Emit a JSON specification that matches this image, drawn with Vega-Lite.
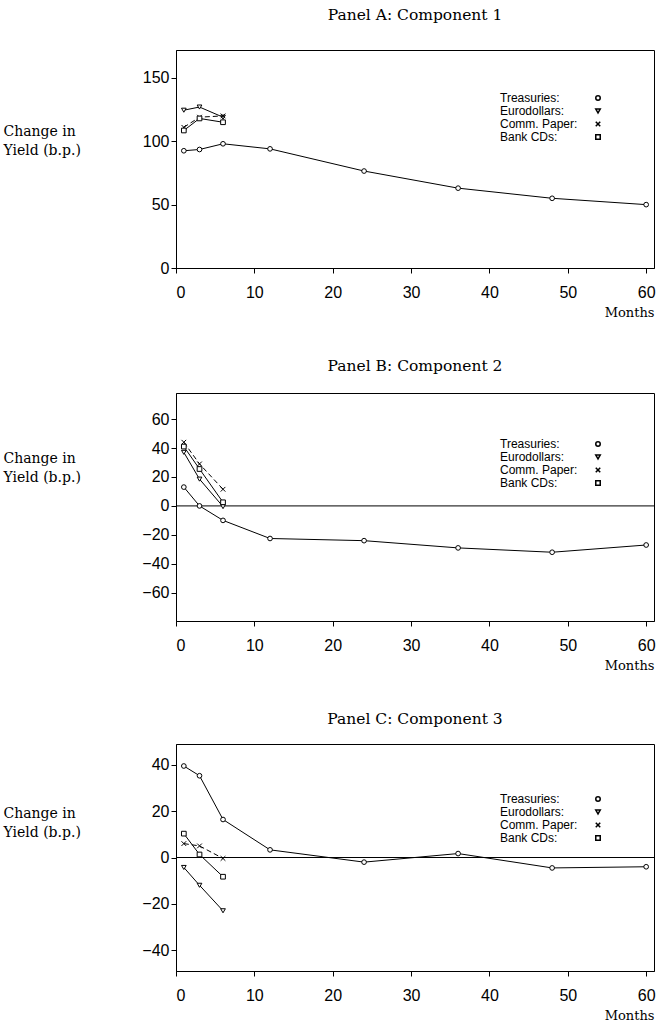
{
  "$schema": "https://vega.github.io/schema/vega-lite/v6.json",
  "padding": {"left": 2, "top": 7, "right": 4, "bottom": 1},
  "background": "white",
  "config": {
    "view": {"stroke": "black", "strokeWidth": 1},
    "font": "Liberation Sans",
    "axis": {
      "grid": false,
      "domainColor": "black",
      "tickColor": "black",
      "labelColor": "black",
      "labelFont": "Liberation Sans",
      "labelFontSize": 16,
      "tickSize": 5,
      "titleFont": "DejaVu Serif",
      "titleFontWeight": "normal",
      "titleFontSize": 14,
      "titleColor": "black"
    },
    "title": {"font": "DejaVu Serif", "fontSize": 15.5, "fontWeight": "normal", "color": "black", "anchor": "middle"},
    "legend": {
      "labelFont": "Liberation Sans",
      "labelFontSize": 12,
      "labelColor": "black"
    }
  },
  "datasets": {
    "curves": [
      {"panel": "A", "series": "Treasuries", "month": 1, "value": 92.5},
      {"panel": "A", "series": "Treasuries", "month": 3, "value": 93.5},
      {"panel": "A", "series": "Treasuries", "month": 6, "value": 98},
      {"panel": "A", "series": "Treasuries", "month": 12, "value": 94},
      {"panel": "A", "series": "Treasuries", "month": 24, "value": 76.5},
      {"panel": "A", "series": "Treasuries", "month": 36, "value": 63},
      {"panel": "A", "series": "Treasuries", "month": 48, "value": 55},
      {"panel": "A", "series": "Treasuries", "month": 60, "value": 50},
      {"panel": "A", "series": "Eurodollars", "month": 1, "value": 124.5},
      {"panel": "A", "series": "Eurodollars", "month": 3, "value": 127},
      {"panel": "A", "series": "Eurodollars", "month": 6, "value": 119},
      {"panel": "A", "series": "Comm. Paper", "month": 1, "value": 111},
      {"panel": "A", "series": "Comm. Paper", "month": 3, "value": 119},
      {"panel": "A", "series": "Comm. Paper", "month": 6, "value": 120},
      {"panel": "A", "series": "Bank CDs", "month": 1, "value": 108.5},
      {"panel": "A", "series": "Bank CDs", "month": 3, "value": 118},
      {"panel": "A", "series": "Bank CDs", "month": 6, "value": 115},
      {"panel": "B", "series": "Treasuries", "month": 1, "value": 13},
      {"panel": "B", "series": "Treasuries", "month": 3, "value": 0},
      {"panel": "B", "series": "Treasuries", "month": 6, "value": -10},
      {"panel": "B", "series": "Treasuries", "month": 12, "value": -22.5},
      {"panel": "B", "series": "Treasuries", "month": 24, "value": -24},
      {"panel": "B", "series": "Treasuries", "month": 36, "value": -29},
      {"panel": "B", "series": "Treasuries", "month": 48, "value": -32},
      {"panel": "B", "series": "Treasuries", "month": 60, "value": -27},
      {"panel": "B", "series": "Eurodollars", "month": 1, "value": 37},
      {"panel": "B", "series": "Eurodollars", "month": 3, "value": 18.5},
      {"panel": "B", "series": "Eurodollars", "month": 6, "value": -0.5},
      {"panel": "B", "series": "Comm. Paper", "month": 1, "value": 44},
      {"panel": "B", "series": "Comm. Paper", "month": 3, "value": 29},
      {"panel": "B", "series": "Comm. Paper", "month": 6, "value": 11.5},
      {"panel": "B", "series": "Bank CDs", "month": 1, "value": 41},
      {"panel": "B", "series": "Bank CDs", "month": 3, "value": 25.5},
      {"panel": "B", "series": "Bank CDs", "month": 6, "value": 2.5},
      {"panel": "C", "series": "Treasuries", "month": 1, "value": 39.5},
      {"panel": "C", "series": "Treasuries", "month": 3, "value": 35.3},
      {"panel": "C", "series": "Treasuries", "month": 6, "value": 16.4},
      {"panel": "C", "series": "Treasuries", "month": 12, "value": 3.3},
      {"panel": "C", "series": "Treasuries", "month": 24, "value": -2},
      {"panel": "C", "series": "Treasuries", "month": 36, "value": 1.7},
      {"panel": "C", "series": "Treasuries", "month": 48, "value": -4.5},
      {"panel": "C", "series": "Treasuries", "month": 60, "value": -4},
      {"panel": "C", "series": "Eurodollars", "month": 1, "value": -4.3},
      {"panel": "C", "series": "Eurodollars", "month": 3, "value": -12},
      {"panel": "C", "series": "Eurodollars", "month": 6, "value": -23},
      {"panel": "C", "series": "Comm. Paper", "month": 1, "value": 6},
      {"panel": "C", "series": "Comm. Paper", "month": 3, "value": 5},
      {"panel": "C", "series": "Comm. Paper", "month": 6, "value": -0.4},
      {"panel": "C", "series": "Bank CDs", "month": 1, "value": 10.3},
      {"panel": "C", "series": "Bank CDs", "month": 3, "value": 1.3},
      {"panel": "C", "series": "Bank CDs", "month": 6, "value": -8.3}
    ],
    "zero": [{"z": 0}]
  },
  "resolve": {"scale": {"shape": "independent", "y": "independent"}, "legend": {"shape": "independent"}},
  "spacing": 38,
  "vconcat": [
    {
      "width": 478,
      "height": 218,
      "title": {"text": "Panel A: Component 1", "offset": 27},
      "data": {"name": "curves"},
      "transform": [{"filter": "datum.panel == 'A'"}],
      "encoding": {
        "x": {"field": "month", "type": "quantitative", "scale": {"domain": [0, 61], "nice": false}, "axis": {"values": [0, 10, 20, 30, 40, 50, 60], "title": "Months", "titleFontSize": 13, "titleAnchor": "end", "titleAlign": "right", "titlePadding": 6, "labelPadding": 11}},
        "y": {"field": "value", "type": "quantitative", "scale": {"domain": [0, 172], "nice": false}, "axis": {"values": [0, 50, 100, 150], "title": ["Change in", "Yield (b.p.)"], "titleAngle": 0, "titleAlign": "left", "titleBaseline": "top", "titleX": -173, "titleY": 74, "titleLineHeight": 19}}
      },
      "layer": [
        {"transform": [{"filter": "datum.series != 'Comm. Paper'"}], "mark": {"type": "line", "color": "black", "strokeWidth": 1}, "encoding": {"detail": {"field": "series"}}},
        {"transform": [{"filter": "datum.series == 'Comm. Paper'"}], "mark": {"type": "line", "color": "black", "strokeWidth": 1, "strokeDash": [5, 3]}, "encoding": {}},
        {"mark": {"type": "point", "filled": true, "fill": "white", "stroke": "black", "strokeWidth": 1, "size": 22, "opacity": 1},
         "encoding": {"shape": {"field": "series", "type": "nominal", "scale": {"domain": ["Treasuries", "Eurodollars", "Comm. Paper", "Bank CDs"], "range": ["circle", "triangle-down", "M-1,-1L1,1M-1,1L1,-1", "square"]}, "legend": {"orient": "none", "title": null, "legendX": 416, "legendY": 42, "padding": 0, "labelOffset": -104, "rowPadding": 1, "symbolSize": 20, "labelExpr": "datum.label + ':'", "encode": {"symbols": {"update": {"stroke": {"value": "black"}, "strokeWidth": {"value": 1}, "fill": {"value": "white"}, "opacity": {"value": 1}}}}}}}}
      ]
    },
    {
      "width": 478,
      "height": 228,
      "title": {"text": "Panel B: Component 2", "offset": 19},
      "data": {"name": "curves"},
      "transform": [{"filter": "datum.panel == 'B'"}],
      "encoding": {
        "x": {"field": "month", "type": "quantitative", "scale": {"domain": [0, 61], "nice": false}, "axis": {"values": [0, 10, 20, 30, 40, 50, 60], "title": "Months", "titleFontSize": 13, "titleAnchor": "end", "titleAlign": "right", "titlePadding": 6, "labelPadding": 11}},
        "y": {"field": "value", "type": "quantitative", "scale": {"domain": [-79.5, 78], "nice": false}, "axis": {"values": [-60, -40, -20, 0, 20, 40, 60], "title": ["Change in", "Yield (b.p.)"], "titleAngle": 0, "titleAlign": "left", "titleBaseline": "top", "titleX": -173, "titleY": 58, "titleLineHeight": 19}}
      },
      "layer": [
        {"data": {"name": "zero"}, "mark": {"type": "rule", "color": "black", "strokeWidth": 1}, "encoding": {"y": {"field": "z", "type": "quantitative"}, "x": null}},
        {"transform": [{"filter": "datum.series != 'Comm. Paper'"}], "mark": {"type": "line", "color": "black", "strokeWidth": 1}, "encoding": {"detail": {"field": "series"}}},
        {"transform": [{"filter": "datum.series == 'Comm. Paper'"}], "mark": {"type": "line", "color": "black", "strokeWidth": 1, "strokeDash": [5, 3]}, "encoding": {}},
        {"mark": {"type": "point", "filled": true, "fill": "white", "stroke": "black", "strokeWidth": 1, "size": 22, "opacity": 1},
         "encoding": {"shape": {"field": "series", "type": "nominal", "scale": {"domain": ["Treasuries", "Eurodollars", "Comm. Paper", "Bank CDs"], "range": ["circle", "triangle-down", "M-1,-1L1,1M-1,1L1,-1", "square"]}, "legend": {"orient": "none", "title": null, "legendX": 416, "legendY": 45, "padding": 0, "labelOffset": -104, "rowPadding": 1, "symbolSize": 20, "labelExpr": "datum.label + ':'", "encode": {"symbols": {"update": {"stroke": {"value": "black"}, "strokeWidth": {"value": 1}, "fill": {"value": "white"}, "opacity": {"value": 1}}}}}}}}
      ]
    },
    {
      "width": 478,
      "height": 227,
      "title": {"text": "Panel C: Component 3", "offset": 17},
      "data": {"name": "curves"},
      "transform": [{"filter": "datum.panel == 'C'"}],
      "encoding": {
        "x": {"field": "month", "type": "quantitative", "scale": {"domain": [0, 61], "nice": false}, "axis": {"values": [0, 10, 20, 30, 40, 50, 60], "title": "Months", "titleFontSize": 13, "titleAnchor": "end", "titleAlign": "right", "titlePadding": 6, "labelPadding": 11}},
        "y": {"field": "value", "type": "quantitative", "scale": {"domain": [-49, 49], "nice": false}, "axis": {"values": [-40, -20, 0, 20, 40], "title": ["Change in", "Yield (b.p.)"], "titleAngle": 0, "titleAlign": "left", "titleBaseline": "top", "titleX": -173, "titleY": 62, "titleLineHeight": 19}}
      },
      "layer": [
        {"data": {"name": "zero"}, "mark": {"type": "rule", "color": "black", "strokeWidth": 1}, "encoding": {"y": {"field": "z", "type": "quantitative"}, "x": null}},
        {"transform": [{"filter": "datum.series != 'Comm. Paper'"}], "mark": {"type": "line", "color": "black", "strokeWidth": 1}, "encoding": {"detail": {"field": "series"}}},
        {"transform": [{"filter": "datum.series == 'Comm. Paper'"}], "mark": {"type": "line", "color": "black", "strokeWidth": 1, "strokeDash": [5, 3]}, "encoding": {}},
        {"mark": {"type": "point", "filled": true, "fill": "white", "stroke": "black", "strokeWidth": 1, "size": 22, "opacity": 1},
         "encoding": {"shape": {"field": "series", "type": "nominal", "scale": {"domain": ["Treasuries", "Eurodollars", "Comm. Paper", "Bank CDs"], "range": ["circle", "triangle-down", "M-1,-1L1,1M-1,1L1,-1", "square"]}, "legend": {"orient": "none", "title": null, "legendX": 416, "legendY": 49, "padding": 0, "labelOffset": -104, "rowPadding": 1, "symbolSize": 20, "labelExpr": "datum.label + ':'", "encode": {"symbols": {"update": {"stroke": {"value": "black"}, "strokeWidth": {"value": 1}, "fill": {"value": "white"}, "opacity": {"value": 1}}}}}}}}
      ]
    }
  ]
}
